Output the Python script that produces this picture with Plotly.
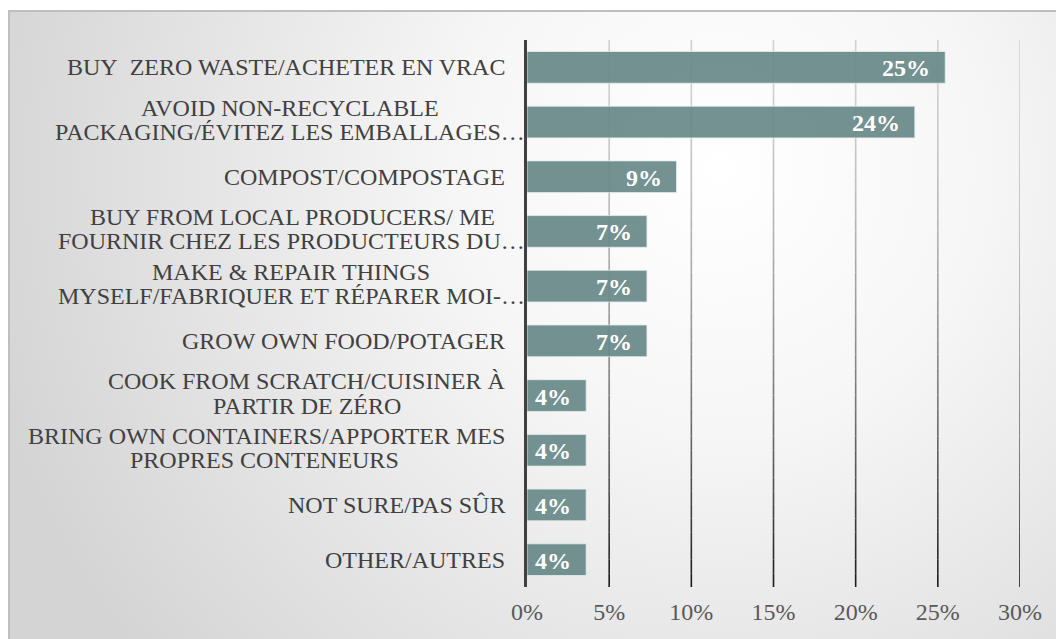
import base64
import plotly.graph_objects as go

categories = [
    "BUY\u00a0 ZERO WASTE/ACHETER EN VRAC",
    "AVOID NON-RECYCLABLE<br>PACKAGING/ÉVITEZ LES EMBALLAGES…",
    "COMPOST/COMPOSTAGE",
    "BUY FROM LOCAL PRODUCERS/ ME<br>FOURNIR CHEZ LES PRODUCTEURS DU…",
    "MAKE & REPAIR THINGS<br>MYSELF/FABRIQUER ET RÉPARER MOI-…",
    "GROW OWN FOOD/POTAGER",
    "COOK FROM SCRATCH/CUISINER À<br>PARTIR DE ZÉRO",
    "BRING OWN CONTAINERS/APPORTER MES<br>PROPRES CONTENEURS",
    "NOT SURE/PAS SÛR",
    "OTHER/AUTRES",
]
values = [25.45, 23.6, 9.1, 7.3, 7.3, 7.3, 3.6, 3.6, 3.6, 3.6]
tick_values = [0, 5, 10, 15, 20, 25, 30]
tick_labels = ["0%", "5%", "10%", "15%", "20%", "25%", "30%"]

# page body has an 8px margin, so the figure is sized to fit the window
W, H = 1056, 631
L, R, T, B = 519, 44, 32, 52
pw, ph = W - L - R, H - T - B

FONT = "Liberation Serif, Times New Roman, serif"
TXT = "#404040"
FS = 24

# Times (Liberation Serif) advance widths, per 1000 em, used to centre the
# two lines of a wrapped label against each other
_W = dict(A=722, B=667, C=667, D=722, E=611, F=556, G=722, H=722, I=333, J=389,
          K=722, L=611, M=889, N=722, O=722, P=556, Q=722, R=667, S=556, T=611,
          U=722, V=722, W=944, X=722, Y=722, Z=611)
_W.update({" ": 250, "/": 278, "-": 333, "&": 778, "…": 1000, ".": 250,
           "\u00a0": 250})
_ACC = {"É": "E", "À": "A", "Û": "U"}


def text_w(s):
    return sum(_W.get(_ACC.get(ch, ch), 600) for ch in s) * FS / 1000.0


ids = [f"c{i}" for i in range(len(categories))]

fig = go.Figure()
fig.add_trace(go.Bar(
    x=values, y=ids, orientation="h",
    marker=dict(color="#6a8a8a", opacity=0.93,
                line=dict(color="rgba(230,238,238,0.8)", width=1)),
    hoverinfo="x+y",
))

annotations = []
common = dict(x=0, xref="paper", yref="y", showarrow=False, xanchor="right",
              yanchor="middle", font=dict(family=FONT, size=FS, color=TXT))
for cid, lab in zip(ids, categories):
    parts = lab.split("<br>")
    base = -20 + (20 if "…" in lab else 0)  # truncated labels overflow their box
    if len(parts) == 1:
        annotations.append(dict(common, y=cid, text=lab, xshift=base))
    else:
        wa, wb = text_w(parts[0]), text_w(parts[1])
        wm = max(wa, wb)
        annotations.append(dict(common, y=cid, text=parts[0], yshift=14.5,
                                xshift=base - (wm - wa) / 2))
        annotations.append(dict(common, y=cid, text=parts[1], yshift=-10,
                                xshift=base - (wm - wb) / 2))
for cid, v in zip(ids, values):
    annotations.append(dict(
        x=v, xref="x", y=cid, yref="y", text=f"{v:.0f}%", showarrow=False,
        xanchor="right", yanchor="middle", xshift=-13, yshift=-1,
        font=dict(family=FONT, size=FS, color="white", weight="bold"),
    ))

# gradient gridlines (light at the top, dark at the bottom)
shapes = []
N = 40
for tv in tick_values[1:]:
    for k in range(N):
        t = (k + 0.5) / N
        c = int(210 - 185 * t ** 1.7)
        shapes.append(dict(
            type="line", xref="x", yref="paper", x0=tv, x1=tv,
            y0=1 - k / N, y1=1 - (k + 1) / N, layer="below",
            line=dict(color=f"rgb({c},{c},{c})", width=1.6),
        ))

svg = f'''<svg xmlns="http://www.w3.org/2000/svg" width="{W}" height="{H}" viewBox="0 0 {W} {H}" preserveAspectRatio="none">
<defs><radialGradient id="g" gradientUnits="userSpaceOnUse" cx="712" cy="160" r="760">
<stop offset="0" stop-color="#ffffff"/><stop offset="0.35" stop-color="#f6f6f6"/><stop offset="1" stop-color="#d4d4d4"/></radialGradient></defs>
<rect x="0" y="0" width="{W}" height="{H}" fill="#ffffff"/>
<rect x="1" y="3" width="{W+10}" height="{H+10}" fill="url(#g)" stroke="#bfbfbf" stroke-width="2"/>
</svg>'''
src = "data:image/svg+xml;base64," + base64.b64encode(svg.encode()).decode()

fig.update_layout(
    width=W, height=H,
    margin=dict(l=L, r=R, t=T, b=B, pad=0),
    paper_bgcolor="white", plot_bgcolor="rgba(0,0,0,0)",
    showlegend=False, bargap=0.42,
    annotations=annotations, shapes=shapes,
    images=[dict(source=src, xref="paper", yref="paper",
                 x=-L / pw, y=1 + T / ph, sizex=W / pw, sizey=H / ph,
                 xanchor="left", yanchor="top", sizing="stretch", layer="below")],
    xaxis=dict(range=[0, 30], tickvals=tick_values, ticktext=tick_labels,
               showgrid=False, zeroline=False, showline=False,
               tickfont=dict(family=FONT, size=FS, color="#595959"),
               ticklabelstandoff=8, fixedrange=True),
    yaxis=dict(categoryorder="array", categoryarray=ids, autorange="reversed",
               showticklabels=False, showgrid=False, zeroline=False,
               showline=True, linecolor="#404040", linewidth=3, fixedrange=True),
)

fig.write_html("out.html")
